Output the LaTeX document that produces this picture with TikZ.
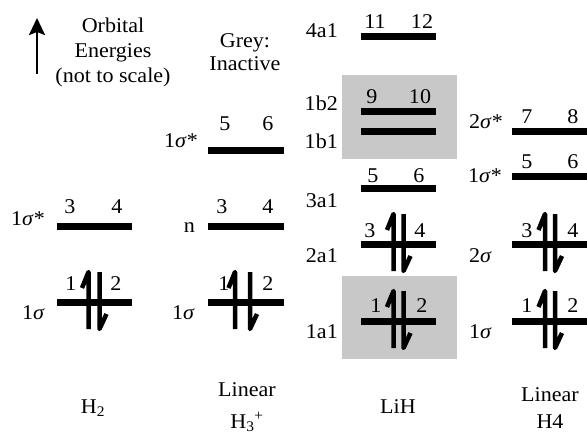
\documentclass[tikz,border=0pt]{standalone}
\usepackage{fontspec}
\setmainfont[FakeStretch=1.05]{Liberation Serif}
\usetikzlibrary{arrows.meta}
\definecolor{inactive}{RGB}{200,200,200}
\newcommand{\sig}{\textit{σ}}
\newcommand{\epairdraw}[3]{%
  \draw[elec] (#1-6.5,#3-14) -- (#1,#3-30) -- (#1,#3+27);
  \draw[elec] (#2,#3-30) -- (#2,#3+27) -- (#2+7,#3+12);}
\begin{document}
\begin{tikzpicture}[x=1pt,y=-1pt,
  font=\fontsize{21}{25}\selectfont,
  orbline/.style={line width=7pt},
  elec/.style={line width=4.5pt,line join=round},
  txt/.style={anchor=base,inner sep=0pt},
  lft/.style={anchor=base east,inner sep=0pt},
  greybox/.style={fill=inactive,draw=none}]
\useasboundingbox (0,0) rectangle (587,434);
% grey boxes
\fill[greybox] (342,75) rectangle (457,159);
\fill[greybox] (342,276) rectangle (457,359);
% energy arrow
\coordinate (ebot) at (37,74);
\coordinate (etop) at (37,18);
\draw[line width=2.5pt,-{Stealth[length=17pt,width=16pt,inset=3pt]}] (ebot) -- (etop);
\node[txt] (t1) at (113,32) {Orbital};
\node[txt] (t2) at (113,57) {Energies};
\node[txt] (t3) at (113,82) {(not to scale)};
\node[txt] (g1) at (245,47) {Grey:};
\node[txt] (g2) at (245,70) {Inactive};
% ---------- H2 ----------
\draw[orbline] (57,226) -- (132,226);
\draw[orbline] (57,302) -- (132,302);
\node[lft] (h2a) at (45,225) {1\sig*};
\node[lft] (h2b) at (45,319) {1\sig};
\node[txt] (h2n3) at (70,213) {3};
\node[txt] (h2n4) at (117,213) {4};
\node[txt] (h2n1) at (71,290) {1};
\node[txt] (h2n2) at (116,290) {2};
\epairdraw{88.5}{99.5}{302}
\node[txt] (h2name) at (93,413) {H\textsubscript{2}};
% ---------- H3+ ----------
\draw[orbline] (208,150) -- (284,150);
\draw[orbline] (208,226) -- (284,226);
\draw[orbline] (208,302) -- (284,302);
\node[lft] (h3a) at (198,147) {1\sig*};
\node[lft] (h3b) at (195,232) {n};
\node[lft] (h3c) at (195,319) {1\sig};
\node[txt] (h3n5) at (225,130) {5};
\node[txt] (h3n6) at (268,130) {6};
\node[txt] (h3n3) at (222,213) {3};
\node[txt] (h3n4) at (268,213) {4};
\node[txt] (h3n1) at (224,290) {1};
\node[txt] (h3n2) at (268,290) {2};
\epairdraw{235}{250}{302}
\node[txt] (h3name1) at (247,396) {Linear};
\node[txt] (h3name2) at (247,428) {H\textsubscript{3}\textsuperscript{+}};
% ---------- LiH ----------
\draw[orbline] (361,36) -- (436,36);
\draw[orbline] (361,111) -- (436,111);
\draw[orbline] (361,131) -- (436,131);
\draw[orbline] (361,188) -- (436,188);
\draw[orbline] (361,244) -- (436,244);
\draw[orbline] (361,321) -- (436,321);
\node[lft] (l1) at (338,37) {4a1};
\node[lft] (l2) at (338,110) {1b2};
\node[lft] (l3) at (338,148) {1b1};
\node[lft] (l4) at (338,207) {3a1};
\node[lft] (l5) at (338,262) {2a1};
\node[lft] (l6) at (338,338) {1a1};
\node[txt] (ln11) at (375,28) {11};
\node[txt] (ln12) at (422,28) {12};
\node[txt] (ln9) at (372,103) {9};
\node[txt] (ln10) at (420,103) {10};
\node[txt] (ln5) at (373,182) {5};
\node[txt] (ln6) at (419,182) {6};
\node[txt] (ln3) at (370,237) {3};
\node[txt] (ln4) at (420,237) {4};
\node[txt] (ln1) at (376,312) {1};
\node[txt] (ln2) at (422,312) {2};
\epairdraw{393.5}{403.5}{244}
\epairdraw{393.5}{403.5}{321}
\node[txt] (lname) at (398,413) {LiH};
% ---------- H4 ----------
\draw[orbline] (512,131) -- (587,131);
\draw[orbline] (512,176) -- (587,176);
\draw[orbline] (512,244) -- (587,244);
\draw[orbline] (512,321) -- (587,321);
\node[lft] (f1) at (503,128) {2\sig*};
\node[lft] (f2) at (502,182) {1\sig*};
\node[lft] (f3) at (492,262) {2\sig};
\node[lft] (f4) at (492,338) {1\sig};
\node[txt] (fn7) at (527,123) {7};
\node[txt] (fn8) at (573,123) {8};
\node[txt] (fn5) at (527,168) {5};
\node[txt] (fn6) at (573,168) {6};
\node[txt] (fn3) at (527,237) {3};
\node[txt] (fn4) at (573,237) {4};
\node[txt] (fn1) at (527,312) {1};
\node[txt] (fn2) at (573,312) {2};
\epairdraw{545}{555}{244}
\epairdraw{545}{555}{321}
\node[txt] (fname1) at (550,401) {Linear};
\node[txt] (fname2) at (550,428) {H4};
\end{tikzpicture}
\end{document}
